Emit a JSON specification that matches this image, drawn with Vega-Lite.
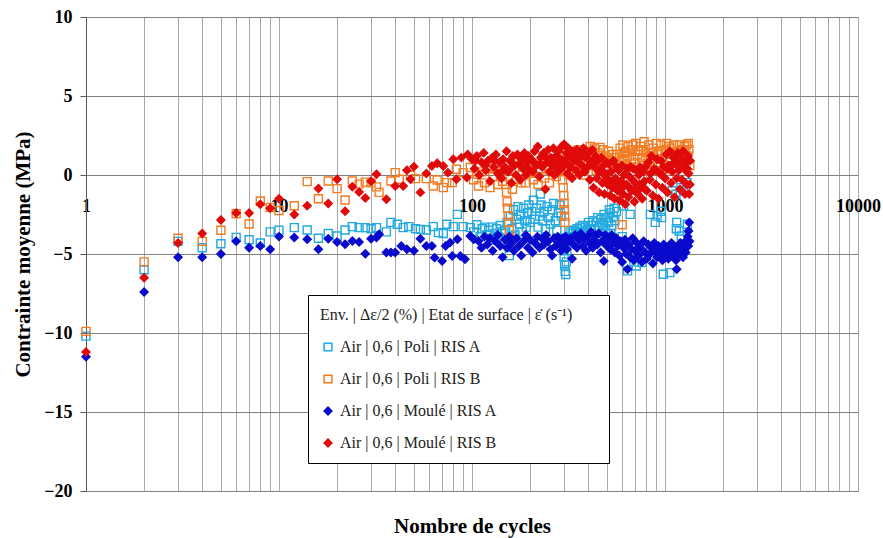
{
  "$schema": "https://vega.github.io/schema/vega-lite/v6.json",
  "width": 772,
  "height": 474,
  "autosize": {"type": "none"},
  "padding": {"left": 86, "top": 17, "right": 25, "bottom": 47},
  "background": "white",
  "config": {"view": {"stroke": "#8C8C8C", "strokeWidth": 1}, "font": "Liberation Serif"},
  "datasets": {
    "mesures": [
      {"serie":"Poli A","N":1,"sigma":-10.2},{"serie":"Poli A","N":2,"sigma":-6.0},{"serie":"Poli A","N":3,"sigma":-4.2},{"serie":"Poli A","N":4,"sigma":-4.6},{"serie":"Poli A","N":5,"sigma":-4.35},{"serie":"Poli A","N":6,"sigma":-3.95},{"serie":"Poli A","N":7,"sigma":-4.1},{"serie":"Poli A","N":8,"sigma":-4.3},{"serie":"Poli A","N":9,"sigma":-3.6},{"serie":"Poli A","N":10,"sigma":-3.5},
      {"serie":"Poli A","N":12,"sigma":-3.33},{"serie":"Poli A","N":14,"sigma":-3.48},{"serie":"Poli A","N":16,"sigma":-4.0},{"serie":"Poli A","N":18,"sigma":-3.7},{"serie":"Poli A","N":20,"sigma":-3.86},{"serie":"Poli A","N":22,"sigma":-3.48},{"serie":"Poli A","N":24,"sigma":-3.27},{"serie":"Poli A","N":26,"sigma":-3.33},{"serie":"Poli A","N":28,"sigma":-3.33},{"serie":"Poli A","N":30,"sigma":-3.4},
      {"serie":"Poli A","N":32,"sigma":-3.33},{"serie":"Poli A","N":36,"sigma":-3.6},{"serie":"Poli A","N":38,"sigma":-3.0},{"serie":"Poli A","N":41,"sigma":-3.12},{"serie":"Poli A","N":44,"sigma":-3.33},{"serie":"Poli A","N":47,"sigma":-3.27},{"serie":"Poli A","N":51,"sigma":-3.4},{"serie":"Poli A","N":54,"sigma":-3.44},{"serie":"Poli A","N":58,"sigma":-3.48},{"serie":"Poli A","N":63,"sigma":-3.27},
      {"serie":"Poli A","N":67,"sigma":-3.65},{"serie":"Poli A","N":71,"sigma":-3.7},{"serie":"Poli A","N":74,"sigma":-3.12},{"serie":"Poli A","N":80,"sigma":-3.27},{"serie":"Poli A","N":84,"sigma":-2.49},{"serie":"Poli A","N":90,"sigma":-3.27},{"serie":"Poli A","N":98,"sigma":-3.33},{"serie":"Poli A","N":102,"sigma":-3.6},{"serie":"Poli A","N":106,"sigma":-3.15},{"serie":"Poli A","N":110,"sigma":-3.9},
      {"serie":"Poli A","N":113,"sigma":-3.4},{"serie":"Poli A","N":116,"sigma":-3.3},{"serie":"Poli A","N":119,"sigma":-3.8},{"serie":"Poli A","N":122,"sigma":-3.5},{"serie":"Poli A","N":125,"sigma":-4.1},{"serie":"Poli A","N":128,"sigma":-3.3},{"serie":"Poli A","N":131,"sigma":-3.7},{"serie":"Poli A","N":134,"sigma":-3.4},{"serie":"Poli A","N":137,"sigma":-3.9},{"serie":"Poli A","N":140,"sigma":-3.2},
      {"serie":"Poli A","N":143,"sigma":-3.6},{"serie":"Poli A","N":146,"sigma":-4.2},{"serie":"Poli A","N":149,"sigma":-3.5},{"serie":"Poli A","N":152,"sigma":-3.0},{"serie":"Poli A","N":154,"sigma":-4.5},{"serie":"Poli A","N":156,"sigma":-5.1},{"serie":"Poli A","N":158,"sigma":-2.6},{"serie":"Poli A","N":161,"sigma":-3.4},{"serie":"Poli A","N":164,"sigma":-2.2},{"serie":"Poli A","N":167,"sigma":-3.8},
      {"serie":"Poli A","N":170,"sigma":-2.8},{"serie":"Poli A","N":173,"sigma":-2.0},{"serie":"Poli A","N":176,"sigma":-3.1},{"serie":"Poli A","N":179,"sigma":-2.5},{"serie":"Poli A","N":182,"sigma":-3.6},{"serie":"Poli A","N":185,"sigma":-2.1},{"serie":"Poli A","N":188,"sigma":-2.9},{"serie":"Poli A","N":191,"sigma":-3.3},{"serie":"Poli A","N":194,"sigma":-2.4},{"serie":"Poli A","N":197,"sigma":-1.9},
      {"serie":"Poli A","N":200,"sigma":-3.0},{"serie":"Poli A","N":204,"sigma":-2.3},{"serie":"Poli A","N":208,"sigma":-1.6},{"serie":"Poli A","N":212,"sigma":-2.8},{"serie":"Poli A","N":216,"sigma":-2.1},{"serie":"Poli A","N":220,"sigma":-3.3},{"serie":"Poli A","N":224,"sigma":-2.6},{"serie":"Poli A","N":226,"sigma":-1.2},{"serie":"Poli A","N":228,"sigma":-1.9},{"serie":"Poli A","N":232,"sigma":-2.9},
      {"serie":"Poli A","N":236,"sigma":-2.3},{"serie":"Poli A","N":240,"sigma":-3.4},{"serie":"Poli A","N":245,"sigma":-2.0},{"serie":"Poli A","N":250,"sigma":-2.7},{"serie":"Poli A","N":255,"sigma":-3.1},{"serie":"Poli A","N":260,"sigma":-2.2},{"serie":"Poli A","N":265,"sigma":-1.8},{"serie":"Poli A","N":270,"sigma":-2.9},{"serie":"Poli A","N":275,"sigma":-3.5},{"serie":"Poli A","N":280,"sigma":-2.4},
      {"serie":"Poli A","N":285,"sigma":-1.9},{"serie":"Poli A","N":290,"sigma":-2.6},{"serie":"Poli A","N":296,"sigma":-4.0},{"serie":"Poli A","N":298,"sigma":-4.6},{"serie":"Poli A","N":300,"sigma":-5.2},{"serie":"Poli A","N":302,"sigma":-5.7},{"serie":"Poli A","N":304,"sigma":-6.1},{"serie":"Poli A","N":306,"sigma":-6.3},{"serie":"Poli A","N":308,"sigma":-5.5},{"serie":"Poli A","N":310,"sigma":-4.8},
      {"serie":"Poli A","N":312,"sigma":-4.3},{"serie":"Poli A","N":318,"sigma":-3.9},{"serie":"Poli A","N":322,"sigma":-3.6},{"serie":"Poli A","N":326,"sigma":-4.0},{"serie":"Poli A","N":330,"sigma":-3.7},{"serie":"Poli A","N":335,"sigma":-3.5},{"serie":"Poli A","N":340,"sigma":-3.9},{"serie":"Poli A","N":345,"sigma":-3.6},{"serie":"Poli A","N":350,"sigma":-3.4},{"serie":"Poli A","N":356,"sigma":-3.8},
      {"serie":"Poli A","N":362,"sigma":-3.3},{"serie":"Poli A","N":368,"sigma":-3.6},{"serie":"Poli A","N":374,"sigma":-3.2},{"serie":"Poli A","N":380,"sigma":-3.7},{"serie":"Poli A","N":387,"sigma":-3.3},{"serie":"Poli A","N":394,"sigma":-3.5},{"serie":"Poli A","N":401,"sigma":-3.0},{"serie":"Poli A","N":408,"sigma":-3.4},{"serie":"Poli A","N":416,"sigma":-3.2},{"serie":"Poli A","N":424,"sigma":-2.9},
      {"serie":"Poli A","N":432,"sigma":-3.5},{"serie":"Poli A","N":440,"sigma":-3.0},{"serie":"Poli A","N":448,"sigma":-2.7},{"serie":"Poli A","N":456,"sigma":-3.3},{"serie":"Poli A","N":465,"sigma":-2.8},{"serie":"Poli A","N":470,"sigma":-3.7},{"serie":"Poli A","N":474,"sigma":-3.1},{"serie":"Poli A","N":483,"sigma":-2.5},{"serie":"Poli A","N":492,"sigma":-3.4},{"serie":"Poli A","N":501,"sigma":-2.7},
      {"serie":"Poli A","N":510,"sigma":-3.0},{"serie":"Poli A","N":515,"sigma":-2.2},{"serie":"Poli A","N":520,"sigma":-2.4},{"serie":"Poli A","N":525,"sigma":-3.7},{"serie":"Poli A","N":530,"sigma":-3.2},{"serie":"Poli A","N":540,"sigma":-2.6},{"serie":"Poli A","N":545,"sigma":-2.1},{"serie":"Poli A","N":550,"sigma":-2.9},{"serie":"Poli A","N":560,"sigma":-2.3},{"serie":"Poli A","N":600,"sigma":-3.9},
      {"serie":"Poli A","N":610,"sigma":-1.96},{"serie":"Poli A","N":640,"sigma":-6.07},{"serie":"Poli A","N":660,"sigma":-2.49},{"serie":"Poli A","N":690,"sigma":-5.5},{"serie":"Poli A","N":710,"sigma":-5.76},{"serie":"Poli A","N":760,"sigma":-5.54},{"serie":"Poli A","N":840,"sigma":-2.49},{"serie":"Poli A","N":890,"sigma":-3.0},{"serie":"Poli A","N":910,"sigma":-2.6},{"serie":"Poli A","N":955,"sigma":-2.3},
      {"serie":"Poli A","N":960,"sigma":-2.7},{"serie":"Poli A","N":980,"sigma":-6.28},{"serie":"Poli A","N":1060,"sigma":-6.18},{"serie":"Poli A","N":1090,"sigma":-1.0},{"serie":"Poli A","N":1140,"sigma":-1.22},{"serie":"Poli A","N":1145,"sigma":-3.4},{"serie":"Poli A","N":1150,"sigma":-3.0},{"serie":"Poli A","N":1185,"sigma":-3.54},{"serie":"Poli A","N":1210,"sigma":-0.8},{"serie":"Poli A","N":1215,"sigma":-3.86},
      {"serie":"Poli A","N":1250,"sigma":-1.0},{"serie":"Poli A","N":1300,"sigma":-0.48},{"serie":"Poli A","N":1305,"sigma":-3.12},

      {"serie":"Poli B","N":1,"sigma":-9.9},{"serie":"Poli B","N":2,"sigma":-5.5},{"serie":"Poli B","N":3,"sigma":-4.0},{"serie":"Poli B","N":4,"sigma":-4.2},{"serie":"Poli B","N":5,"sigma":-3.5},{"serie":"Poli B","N":6,"sigma":-2.45},{"serie":"Poli B","N":7,"sigma":-3.1},{"serie":"Poli B","N":8,"sigma":-1.65},{"serie":"Poli B","N":9,"sigma":-2.05},{"serie":"Poli B","N":10,"sigma":-2.25},
      {"serie":"Poli B","N":12,"sigma":-1.95},{"serie":"Poli B","N":14,"sigma":-0.42},{"serie":"Poli B","N":16,"sigma":-1.5},{"serie":"Poli B","N":18,"sigma":-0.38},{"serie":"Poli B","N":20,"sigma":-0.86},{"serie":"Poli B","N":22,"sigma":-1.58},{"serie":"Poli B","N":24,"sigma":-0.38},{"serie":"Poli B","N":26,"sigma":-0.58},{"serie":"Poli B","N":28,"sigma":-0.45},{"serie":"Poli B","N":30,"sigma":-0.5},
      {"serie":"Poli B","N":32,"sigma":-0.75},{"serie":"Poli B","N":33,"sigma":-1.1},{"serie":"Poli B","N":38,"sigma":-0.38},{"serie":"Poli B","N":40,"sigma":0.15},{"serie":"Poli B","N":42,"sigma":-0.27},{"serie":"Poli B","N":48,"sigma":-0.02},{"serie":"Poli B","N":51,"sigma":-0.23},{"serie":"Poli B","N":58,"sigma":-0.23},{"serie":"Poli B","N":63,"sigma":-0.7},{"serie":"Poli B","N":66,"sigma":-0.32},
      {"serie":"Poli B","N":71,"sigma":-0.8},{"serie":"Poli B","N":74,"sigma":-0.48},{"serie":"Poli B","N":79,"sigma":-0.48},{"serie":"Poli B","N":83,"sigma":0.36},{"serie":"Poli B","N":90,"sigma":0.15},{"serie":"Poli B","N":98,"sigma":0.47},{"serie":"Poli B","N":102,"sigma":-0.3},{"serie":"Poli B","N":106,"sigma":0.05},{"serie":"Poli B","N":108,"sigma":-0.7},{"serie":"Poli B","N":112,"sigma":0.2},
      {"serie":"Poli B","N":116,"sigma":-0.5},{"serie":"Poli B","N":120,"sigma":0.4},{"serie":"Poli B","N":124,"sigma":-0.8},{"serie":"Poli B","N":128,"sigma":-0.1},{"serie":"Poli B","N":132,"sigma":0.5},{"serie":"Poli B","N":136,"sigma":-0.6},{"serie":"Poli B","N":140,"sigma":0.1},{"serie":"Poli B","N":144,"sigma":-0.4},{"serie":"Poli B","N":148,"sigma":0.3},{"serie":"Poli B","N":150,"sigma":-0.6},
      {"serie":"Poli B","N":151,"sigma":-1.1},{"serie":"Poli B","N":152,"sigma":-1.7},{"serie":"Poli B","N":153,"sigma":-2.1},{"serie":"Poli B","N":154,"sigma":-2.6},{"serie":"Poli B","N":155,"sigma":-3.0},{"serie":"Poli B","N":156,"sigma":-3.5},{"serie":"Poli B","N":157,"sigma":-4.0},{"serie":"Poli B","N":158,"sigma":-4.5},{"serie":"Poli B","N":162,"sigma":-0.9},{"serie":"Poli B","N":166,"sigma":0.3},
      {"serie":"Poli B","N":170,"sigma":-0.3},{"serie":"Poli B","N":175,"sigma":0.8},{"serie":"Poli B","N":180,"sigma":-0.5},{"serie":"Poli B","N":185,"sigma":0.5},{"serie":"Poli B","N":190,"sigma":-0.5},{"serie":"Poli B","N":196,"sigma":1.0},{"serie":"Poli B","N":202,"sigma":0.1},{"serie":"Poli B","N":208,"sigma":-0.3},{"serie":"Poli B","N":214,"sigma":0.7},{"serie":"Poli B","N":220,"sigma":-0.6},
      {"serie":"Poli B","N":226,"sigma":0.4},{"serie":"Poli B","N":232,"sigma":1.1},{"serie":"Poli B","N":238,"sigma":-0.2},{"serie":"Poli B","N":245,"sigma":0.6},{"serie":"Poli B","N":252,"sigma":-0.5},{"serie":"Poli B","N":259,"sigma":0.9},{"serie":"Poli B","N":266,"sigma":0.2},{"serie":"Poli B","N":273,"sigma":-0.1},{"serie":"Poli B","N":280,"sigma":1.0},{"serie":"Poli B","N":287,"sigma":0.3},
      {"serie":"Poli B","N":294,"sigma":-0.3},{"serie":"Poli B","N":297,"sigma":-0.8},{"serie":"Poli B","N":299,"sigma":-1.3},{"serie":"Poli B","N":300,"sigma":-1.8},{"serie":"Poli B","N":301,"sigma":-2.2},{"serie":"Poli B","N":302,"sigma":-2.6},{"serie":"Poli B","N":303,"sigma":-3.0},{"serie":"Poli B","N":306,"sigma":0.3},{"serie":"Poli B","N":312,"sigma":1.0},{"serie":"Poli B","N":318,"sigma":0.0},
      {"serie":"Poli B","N":325,"sigma":1.4},{"serie":"Poli B","N":332,"sigma":0.5},{"serie":"Poli B","N":340,"sigma":1.1},{"serie":"Poli B","N":348,"sigma":0.2},{"serie":"Poli B","N":356,"sigma":1.6},{"serie":"Poli B","N":364,"sigma":0.7},{"serie":"Poli B","N":372,"sigma":1.2},{"serie":"Poli B","N":380,"sigma":0.0},{"serie":"Poli B","N":390,"sigma":1.5},{"serie":"Poli B","N":400,"sigma":0.6},
      {"serie":"Poli B","N":410,"sigma":1.8},{"serie":"Poli B","N":420,"sigma":0.9},{"serie":"Poli B","N":430,"sigma":1.7},{"serie":"Poli B","N":440,"sigma":0.3},{"serie":"Poli B","N":450,"sigma":1.4},{"serie":"Poli B","N":460,"sigma":1.75},{"serie":"Poli B","N":470,"sigma":0.8},{"serie":"Poli B","N":480,"sigma":1.6},{"serie":"Poli B","N":490,"sigma":1.2},{"serie":"Poli B","N":500,"sigma":0.4},
      {"serie":"Poli B","N":510,"sigma":1.5},{"serie":"Poli B","N":520,"sigma":0.9},{"serie":"Poli B","N":530,"sigma":1.3},{"serie":"Poli B","N":540,"sigma":0.6},{"serie":"Poli B","N":550,"sigma":1.1},{"serie":"Poli B","N":565,"sigma":1.3},{"serie":"Poli B","N":575,"sigma":0.6},{"serie":"Poli B","N":585,"sigma":1.7},{"serie":"Poli B","N":595,"sigma":-1.5},{"serie":"Poli B","N":596,"sigma":1.0},
      {"serie":"Poli B","N":600,"sigma":-3.15},{"serie":"Poli B","N":605,"sigma":1.9},{"serie":"Poli B","N":615,"sigma":0.9},{"serie":"Poli B","N":625,"sigma":1.5},{"serie":"Poli B","N":635,"sigma":0.6},{"serie":"Poli B","N":645,"sigma":1.8},{"serie":"Poli B","N":655,"sigma":1.2},{"serie":"Poli B","N":665,"sigma":0.5},{"serie":"Poli B","N":675,"sigma":1.6},{"serie":"Poli B","N":690,"sigma":1.0},
      {"serie":"Poli B","N":705,"sigma":2.0},{"serie":"Poli B","N":720,"sigma":1.3},{"serie":"Poli B","N":735,"sigma":0.7},{"serie":"Poli B","N":750,"sigma":1.8},{"serie":"Poli B","N":765,"sigma":1.1},{"serie":"Poli B","N":780,"sigma":2.1},{"serie":"Poli B","N":795,"sigma":1.4},{"serie":"Poli B","N":810,"sigma":0.5},{"serie":"Poli B","N":825,"sigma":1.9},{"serie":"Poli B","N":840,"sigma":1.2},
      {"serie":"Poli B","N":855,"sigma":0.3},{"serie":"Poli B","N":870,"sigma":1.7},{"serie":"Poli B","N":885,"sigma":1.0},{"serie":"Poli B","N":900,"sigma":2.0},{"serie":"Poli B","N":915,"sigma":0.8},{"serie":"Poli B","N":930,"sigma":1.5},{"serie":"Poli B","N":950,"sigma":1.9},{"serie":"Poli B","N":970,"sigma":1.0},{"serie":"Poli B","N":990,"sigma":0.4},{"serie":"Poli B","N":1010,"sigma":1.6},
      {"serie":"Poli B","N":1030,"sigma":1.1},{"serie":"Poli B","N":1050,"sigma":1.8},{"serie":"Poli B","N":1070,"sigma":0.8},{"serie":"Poli B","N":1090,"sigma":1.4},{"serie":"Poli B","N":1110,"sigma":1.9},{"serie":"Poli B","N":1130,"sigma":1.0},{"serie":"Poli B","N":1150,"sigma":0.5},{"serie":"Poli B","N":1170,"sigma":1.5},{"serie":"Poli B","N":1190,"sigma":1.9},{"serie":"Poli B","N":1210,"sigma":1.1},
      {"serie":"Poli B","N":1230,"sigma":1.6},{"serie":"Poli B","N":1250,"sigma":0.7},{"serie":"Poli B","N":1270,"sigma":1.3},{"serie":"Poli B","N":1290,"sigma":1.9},{"serie":"Poli B","N":1310,"sigma":1.2},{"serie":"Poli B","N":1330,"sigma":1.6},{"serie":"Poli B","N":1345,"sigma":0.6},
      {"serie":"Poli B","N":612,"sigma":1.4},{"serie":"Poli B","N":640,"sigma":1.2},{"serie":"Poli B","N":682,"sigma":1.9},{"serie":"Poli B","N":728,"sigma":1.6},{"serie":"Poli B","N":772,"sigma":1.5},{"serie":"Poli B","N":818,"sigma":1.2},{"serie":"Poli B","N":862,"sigma":1.4},{"serie":"Poli B","N":908,"sigma":1.3},{"serie":"Poli B","N":960,"sigma":1.5},{"serie":"Poli B","N":1020,"sigma":2.0},
      {"serie":"Poli B","N":1080,"sigma":1.7},{"serie":"Poli B","N":1140,"sigma":1.3},{"serie":"Poli B","N":1200,"sigma":1.5},{"serie":"Poli B","N":1260,"sigma":1.8},{"serie":"Poli B","N":1320,"sigma":2.0},

      {"serie":"Moulé A","N":1,"sigma":-11.5},{"serie":"Moulé A","N":2,"sigma":-7.4},{"serie":"Moulé A","N":3,"sigma":-5.2},{"serie":"Moulé A","N":4,"sigma":-5.2},{"serie":"Moulé A","N":5,"sigma":-5.0},{"serie":"Moulé A","N":6,"sigma":-4.2},{"serie":"Moulé A","N":7,"sigma":-4.6},{"serie":"Moulé A","N":8,"sigma":-4.5},{"serie":"Moulé A","N":9,"sigma":-4.7},{"serie":"Moulé A","N":10,"sigma":-3.9},
      {"serie":"Moulé A","N":12,"sigma":-3.96},{"serie":"Moulé A","N":14,"sigma":-4.07},{"serie":"Moulé A","N":16,"sigma":-4.7},{"serie":"Moulé A","N":18,"sigma":-4.03},{"serie":"Moulé A","N":20,"sigma":-4.24},{"serie":"Moulé A","N":22,"sigma":-4.39},{"serie":"Moulé A","N":24,"sigma":-4.17},{"serie":"Moulé A","N":26,"sigma":-4.24},{"serie":"Moulé A","N":28,"sigma":-4.98},{"serie":"Moulé A","N":30,"sigma":-4.03},
      {"serie":"Moulé A","N":32,"sigma":-3.96},{"serie":"Moulé A","N":33,"sigma":-3.75},{"serie":"Moulé A","N":36,"sigma":-4.9},{"serie":"Moulé A","N":38,"sigma":-4.9},{"serie":"Moulé A","N":40,"sigma":-4.9},{"serie":"Moulé A","N":43,"sigma":-4.49},{"serie":"Moulé A","N":46,"sigma":-4.7},{"serie":"Moulé A","N":50,"sigma":-4.8},{"serie":"Moulé A","N":54,"sigma":-4.03},{"serie":"Moulé A","N":58,"sigma":-4.49},
      {"serie":"Moulé A","N":62,"sigma":-4.49},{"serie":"Moulé A","N":64,"sigma":-5.23},{"serie":"Moulé A","N":70,"sigma":-5.44},{"serie":"Moulé A","N":73,"sigma":-4.49},{"serie":"Moulé A","N":77,"sigma":-4.28},{"serie":"Moulé A","N":79,"sigma":-5.12},{"serie":"Moulé A","N":84,"sigma":-4.07},{"serie":"Moulé A","N":87,"sigma":-5.12},{"serie":"Moulé A","N":92,"sigma":-5.33},{"serie":"Moulé A","N":98,"sigma":-3.86},
      {"serie":"Moulé A","N":102,"sigma":-4.07},{"serie":"Moulé A","N":108,"sigma":-4.18},{"serie":"Moulé A","N":112,"sigma":-4.6},{"serie":"Moulé A","N":116,"sigma":-3.9},{"serie":"Moulé A","N":120,"sigma":-4.4},{"serie":"Moulé A","N":124,"sigma":-4.0},{"serie":"Moulé A","N":128,"sigma":-4.8},{"serie":"Moulé A","N":132,"sigma":-4.2},{"serie":"Moulé A","N":136,"sigma":-3.8},{"serie":"Moulé A","N":140,"sigma":-4.5},
      {"serie":"Moulé A","N":144,"sigma":-5.2},{"serie":"Moulé A","N":148,"sigma":-4.1},{"serie":"Moulé A","N":152,"sigma":-4.6},{"serie":"Moulé A","N":156,"sigma":-3.9},{"serie":"Moulé A","N":160,"sigma":-4.3},{"serie":"Moulé A","N":165,"sigma":-4.8},{"serie":"Moulé A","N":170,"sigma":-4.0},{"serie":"Moulé A","N":175,"sigma":-4.5},{"serie":"Moulé A","N":180,"sigma":-5.1},{"serie":"Moulé A","N":185,"sigma":-4.2},
      {"serie":"Moulé A","N":190,"sigma":-3.8},{"serie":"Moulé A","N":195,"sigma":-4.6},{"serie":"Moulé A","N":200,"sigma":-4.1},{"serie":"Moulé A","N":206,"sigma":-4.9},{"serie":"Moulé A","N":212,"sigma":-4.3},{"serie":"Moulé A","N":218,"sigma":-3.9},{"serie":"Moulé A","N":224,"sigma":-4.6},{"serie":"Moulé A","N":230,"sigma":-4.0},{"serie":"Moulé A","N":236,"sigma":-4.4},{"serie":"Moulé A","N":242,"sigma":-3.8},
      {"serie":"Moulé A","N":248,"sigma":-4.2},{"serie":"Moulé A","N":255,"sigma":-4.7},{"serie":"Moulé A","N":260,"sigma":-5.1},{"serie":"Moulé A","N":266,"sigma":-4.0},{"serie":"Moulé A","N":272,"sigma":-4.5},{"serie":"Moulé A","N":278,"sigma":-3.9},{"serie":"Moulé A","N":284,"sigma":-4.3},{"serie":"Moulé A","N":290,"sigma":-4.8},{"serie":"Moulé A","N":296,"sigma":-4.0},{"serie":"Moulé A","N":300,"sigma":-4.5},
      {"serie":"Moulé A","N":305,"sigma":-3.9},{"serie":"Moulé A","N":310,"sigma":-4.7},{"serie":"Moulé A","N":316,"sigma":-4.2},{"serie":"Moulé A","N":322,"sigma":-4.0},{"serie":"Moulé A","N":330,"sigma":-5.3},{"serie":"Moulé A","N":336,"sigma":-4.4},{"serie":"Moulé A","N":342,"sigma":-3.8},{"serie":"Moulé A","N":350,"sigma":-4.6},{"serie":"Moulé A","N":358,"sigma":-4.1},{"serie":"Moulé A","N":366,"sigma":-3.7},
      {"serie":"Moulé A","N":374,"sigma":-4.5},{"serie":"Moulé A","N":382,"sigma":-4.0},{"serie":"Moulé A","N":390,"sigma":-4.8},{"serie":"Moulé A","N":398,"sigma":-3.9},{"serie":"Moulé A","N":406,"sigma":-4.3},{"serie":"Moulé A","N":414,"sigma":-3.6},{"serie":"Moulé A","N":422,"sigma":-4.6},{"serie":"Moulé A","N":430,"sigma":-4.1},{"serie":"Moulé A","N":438,"sigma":-3.8},{"serie":"Moulé A","N":446,"sigma":-4.4},
      {"serie":"Moulé A","N":455,"sigma":-3.7},{"serie":"Moulé A","N":464,"sigma":-4.9},{"serie":"Moulé A","N":473,"sigma":-4.2},{"serie":"Moulé A","N":482,"sigma":-5.44},{"serie":"Moulé A","N":490,"sigma":-3.8},{"serie":"Moulé A","N":500,"sigma":-4.5},{"serie":"Moulé A","N":510,"sigma":-4.0},{"serie":"Moulé A","N":520,"sigma":-4.7},{"serie":"Moulé A","N":530,"sigma":-3.8},{"serie":"Moulé A","N":540,"sigma":-4.3},
      {"serie":"Moulé A","N":550,"sigma":-4.9},{"serie":"Moulé A","N":560,"sigma":-4.0},{"serie":"Moulé A","N":570,"sigma":-4.5},{"serie":"Moulé A","N":580,"sigma":-5.1},{"serie":"Moulé A","N":590,"sigma":-4.2},{"serie":"Moulé A","N":600,"sigma":-5.5},{"serie":"Moulé A","N":610,"sigma":-4.6},{"serie":"Moulé A","N":620,"sigma":-4.1},{"serie":"Moulé A","N":630,"sigma":-5.0},{"serie":"Moulé A","N":640,"sigma":-5.97},
      {"serie":"Moulé A","N":650,"sigma":-4.4},{"serie":"Moulé A","N":660,"sigma":-5.2},{"serie":"Moulé A","N":670,"sigma":-4.7},{"serie":"Moulé A","N":680,"sigma":-4.0},{"serie":"Moulé A","N":690,"sigma":-5.4},{"serie":"Moulé A","N":700,"sigma":-4.8},{"serie":"Moulé A","N":715,"sigma":-4.3},{"serie":"Moulé A","N":730,"sigma":-5.1},{"serie":"Moulé A","N":745,"sigma":-4.6},{"serie":"Moulé A","N":760,"sigma":-5.5},
      {"serie":"Moulé A","N":775,"sigma":-4.2},{"serie":"Moulé A","N":790,"sigma":-4.9},{"serie":"Moulé A","N":805,"sigma":-5.3},{"serie":"Moulé A","N":820,"sigma":-4.4},{"serie":"Moulé A","N":835,"sigma":-5.0},{"serie":"Moulé A","N":850,"sigma":-4.6},{"serie":"Moulé A","N":865,"sigma":-5.6},{"serie":"Moulé A","N":880,"sigma":-4.3},{"serie":"Moulé A","N":895,"sigma":-4.9},{"serie":"Moulé A","N":910,"sigma":-5.2},
      {"serie":"Moulé A","N":925,"sigma":-4.5},{"serie":"Moulé A","N":940,"sigma":-5.0},{"serie":"Moulé A","N":955,"sigma":-4.7},{"serie":"Moulé A","N":970,"sigma":-5.4},{"serie":"Moulé A","N":985,"sigma":-4.4},{"serie":"Moulé A","N":1000,"sigma":-5.0},{"serie":"Moulé A","N":1020,"sigma":-4.6},{"serie":"Moulé A","N":1040,"sigma":-5.3},{"serie":"Moulé A","N":1060,"sigma":-4.8},{"serie":"Moulé A","N":1080,"sigma":-4.3},
      {"serie":"Moulé A","N":1100,"sigma":-5.1},{"serie":"Moulé A","N":1120,"sigma":-4.7},{"serie":"Moulé A","N":1140,"sigma":-5.4},{"serie":"Moulé A","N":1150,"sigma":-5.97},{"serie":"Moulé A","N":1165,"sigma":-4.5},{"serie":"Moulé A","N":1180,"sigma":-5.0},{"serie":"Moulé A","N":1200,"sigma":-4.3},{"serie":"Moulé A","N":1220,"sigma":-4.8},{"serie":"Moulé A","N":1240,"sigma":-5.2},{"serie":"Moulé A","N":1260,"sigma":-4.4},
      {"serie":"Moulé A","N":1280,"sigma":-4.9},{"serie":"Moulé A","N":1300,"sigma":-4.1},{"serie":"Moulé A","N":1310,"sigma":-3.9},{"serie":"Moulé A","N":1320,"sigma":-4.5},{"serie":"Moulé A","N":1325,"sigma":-3.54},{"serie":"Moulé A","N":1335,"sigma":-3.0},{"serie":"Moulé A","N":1340,"sigma":-4.2},

      {"serie":"Moulé B","N":1,"sigma":-11.2},{"serie":"Moulé B","N":2,"sigma":-6.5},{"serie":"Moulé B","N":3,"sigma":-4.3},{"serie":"Moulé B","N":4,"sigma":-3.7},{"serie":"Moulé B","N":5,"sigma":-2.85},{"serie":"Moulé B","N":6,"sigma":-2.4},{"serie":"Moulé B","N":7,"sigma":-2.4},{"serie":"Moulé B","N":8,"sigma":-1.85},{"serie":"Moulé B","N":9,"sigma":-2.1},{"serie":"Moulé B","N":10,"sigma":-1.5},
      {"serie":"Moulé B","N":12,"sigma":-2.5},{"serie":"Moulé B","N":14,"sigma":-1.95},{"serie":"Moulé B","N":16,"sigma":-0.85},{"serie":"Moulé B","N":18,"sigma":-1.8},{"serie":"Moulé B","N":20,"sigma":-0.27},{"serie":"Moulé B","N":22,"sigma":-2.3},{"serie":"Moulé B","N":24,"sigma":-0.74},{"serie":"Moulé B","N":26,"sigma":-1.07},{"serie":"Moulé B","N":28,"sigma":-1.45},{"serie":"Moulé B","N":30,"sigma":-0.4},
      {"serie":"Moulé B","N":32,"sigma":0.05},{"serie":"Moulé B","N":36,"sigma":-1.54},{"serie":"Moulé B","N":40,"sigma":-0.7},{"serie":"Moulé B","N":44,"sigma":-0.7},{"serie":"Moulé B","N":46,"sigma":0.3},{"serie":"Moulé B","N":48,"sigma":-0.27},{"serie":"Moulé B","N":50,"sigma":0.53},{"serie":"Moulé B","N":54,"sigma":-1.1},{"serie":"Moulé B","N":58,"sigma":0.1},{"serie":"Moulé B","N":62,"sigma":0.57},
      {"serie":"Moulé B","N":66,"sigma":0.74},{"serie":"Moulé B","N":71,"sigma":0.57},{"serie":"Moulé B","N":75,"sigma":0.15},{"serie":"Moulé B","N":80,"sigma":1.0},{"serie":"Moulé B","N":83,"sigma":-0.27},{"serie":"Moulé B","N":88,"sigma":1.1},{"serie":"Moulé B","N":94,"sigma":-0.16},{"serie":"Moulé B","N":95,"sigma":1.3},{"serie":"Moulé B","N":100,"sigma":1.0},{"serie":"Moulé B","N":103,"sigma":0.4},
      {"serie":"Moulé B","N":106,"sigma":1.2},{"serie":"Moulé B","N":109,"sigma":0.0},{"serie":"Moulé B","N":112,"sigma":0.8},{"serie":"Moulé B","N":115,"sigma":1.4},{"serie":"Moulé B","N":118,"sigma":0.3},{"serie":"Moulé B","N":121,"sigma":0.9},{"serie":"Moulé B","N":124,"sigma":-0.4},{"serie":"Moulé B","N":127,"sigma":1.1},{"serie":"Moulé B","N":130,"sigma":0.5},{"serie":"Moulé B","N":133,"sigma":1.3},
      {"serie":"Moulé B","N":136,"sigma":0.1},{"serie":"Moulé B","N":139,"sigma":0.8},{"serie":"Moulé B","N":142,"sigma":-0.2},{"serie":"Moulé B","N":145,"sigma":1.0},{"serie":"Moulé B","N":148,"sigma":0.5},{"serie":"Moulé B","N":151,"sigma":1.5},{"serie":"Moulé B","N":154,"sigma":0.2},{"serie":"Moulé B","N":157,"sigma":0.9},{"serie":"Moulé B","N":160,"sigma":-0.5},{"serie":"Moulé B","N":163,"sigma":1.2},
      {"serie":"Moulé B","N":166,"sigma":0.6},{"serie":"Moulé B","N":169,"sigma":0.0},{"serie":"Moulé B","N":172,"sigma":1.3},{"serie":"Moulé B","N":175,"sigma":0.7},{"serie":"Moulé B","N":178,"sigma":-0.3},{"serie":"Moulé B","N":181,"sigma":1.0},{"serie":"Moulé B","N":184,"sigma":0.4},{"serie":"Moulé B","N":187,"sigma":1.4},{"serie":"Moulé B","N":190,"sigma":0.0},{"serie":"Moulé B","N":193,"sigma":0.8},
      {"serie":"Moulé B","N":196,"sigma":1.2},{"serie":"Moulé B","N":199,"sigma":0.3},{"serie":"Moulé B","N":203,"sigma":1.0},{"serie":"Moulé B","N":207,"sigma":0.2},{"serie":"Moulé B","N":211,"sigma":1.5},{"serie":"Moulé B","N":215,"sigma":0.6},{"serie":"Moulé B","N":219,"sigma":1.8},{"serie":"Moulé B","N":223,"sigma":-0.1},{"serie":"Moulé B","N":227,"sigma":1.1},{"serie":"Moulé B","N":231,"sigma":0.5},
      {"serie":"Moulé B","N":235,"sigma":1.4},{"serie":"Moulé B","N":240,"sigma":-0.9},{"serie":"Moulé B","N":244,"sigma":0.8},{"serie":"Moulé B","N":248,"sigma":1.6},{"serie":"Moulé B","N":252,"sigma":0.2},{"serie":"Moulé B","N":256,"sigma":1.1},{"serie":"Moulé B","N":260,"sigma":0.6},{"serie":"Moulé B","N":264,"sigma":1.7},{"serie":"Moulé B","N":268,"sigma":0.0},{"serie":"Moulé B","N":272,"sigma":1.2},
      {"serie":"Moulé B","N":276,"sigma":0.7},{"serie":"Moulé B","N":280,"sigma":1.5},{"serie":"Moulé B","N":284,"sigma":0.3},{"serie":"Moulé B","N":288,"sigma":1.0},{"serie":"Moulé B","N":292,"sigma":1.8},{"serie":"Moulé B","N":296,"sigma":0.5},{"serie":"Moulé B","N":300,"sigma":1.95},{"serie":"Moulé B","N":304,"sigma":0.8},{"serie":"Moulé B","N":308,"sigma":1.4},{"serie":"Moulé B","N":312,"sigma":0.1},
      {"serie":"Moulé B","N":316,"sigma":1.7},{"serie":"Moulé B","N":320,"sigma":0.6},{"serie":"Moulé B","N":325,"sigma":1.2},{"serie":"Moulé B","N":330,"sigma":-0.2},{"serie":"Moulé B","N":335,"sigma":1.5},{"serie":"Moulé B","N":340,"sigma":0.9},{"serie":"Moulé B","N":345,"sigma":0.3},{"serie":"Moulé B","N":350,"sigma":1.6},{"serie":"Moulé B","N":355,"sigma":1.0},{"serie":"Moulé B","N":360,"sigma":0.0},
      {"serie":"Moulé B","N":366,"sigma":1.3},{"serie":"Moulé B","N":372,"sigma":0.6},{"serie":"Moulé B","N":378,"sigma":1.7},{"serie":"Moulé B","N":384,"sigma":0.2},{"serie":"Moulé B","N":390,"sigma":1.1},{"serie":"Moulé B","N":396,"sigma":0.5},{"serie":"Moulé B","N":402,"sigma":1.4},{"serie":"Moulé B","N":408,"sigma":-0.3},{"serie":"Moulé B","N":414,"sigma":0.8},{"serie":"Moulé B","N":420,"sigma":1.6},
      {"serie":"Moulé B","N":426,"sigma":-0.8},{"serie":"Moulé B","N":432,"sigma":0.5},{"serie":"Moulé B","N":438,"sigma":1.2},{"serie":"Moulé B","N":444,"sigma":-0.2},{"serie":"Moulé B","N":450,"sigma":0.9},{"serie":"Moulé B","N":456,"sigma":-1.1},{"serie":"Moulé B","N":462,"sigma":0.3},{"serie":"Moulé B","N":468,"sigma":1.1},{"serie":"Moulé B","N":474,"sigma":-0.5},{"serie":"Moulé B","N":480,"sigma":0.6},
      {"serie":"Moulé B","N":486,"sigma":-1.2},{"serie":"Moulé B","N":492,"sigma":0.1},{"serie":"Moulé B","N":498,"sigma":0.8},{"serie":"Moulé B","N":505,"sigma":-0.6},{"serie":"Moulé B","N":512,"sigma":0.7},{"serie":"Moulé B","N":519,"sigma":-1.3},{"serie":"Moulé B","N":526,"sigma":0.2},{"serie":"Moulé B","N":533,"sigma":-0.8},{"serie":"Moulé B","N":540,"sigma":0.9},{"serie":"Moulé B","N":547,"sigma":-1.5},
      {"serie":"Moulé B","N":554,"sigma":-0.2},{"serie":"Moulé B","N":561,"sigma":0.5},{"serie":"Moulé B","N":568,"sigma":-1.0},{"serie":"Moulé B","N":575,"sigma":0.3},{"serie":"Moulé B","N":582,"sigma":-1.6},{"serie":"Moulé B","N":590,"sigma":-0.4},{"serie":"Moulé B","N":598,"sigma":0.6},{"serie":"Moulé B","N":606,"sigma":-1.2},{"serie":"Moulé B","N":614,"sigma":0.0},{"serie":"Moulé B","N":622,"sigma":-1.85},
      {"serie":"Moulé B","N":630,"sigma":-0.6},{"serie":"Moulé B","N":638,"sigma":0.4},{"serie":"Moulé B","N":646,"sigma":-1.4},{"serie":"Moulé B","N":654,"sigma":-0.1},{"serie":"Moulé B","N":662,"sigma":0.5},{"serie":"Moulé B","N":670,"sigma":-1.0},{"serie":"Moulé B","N":678,"sigma":-0.3},{"serie":"Moulé B","N":686,"sigma":0.4},{"serie":"Moulé B","N":694,"sigma":-1.7},{"serie":"Moulé B","N":702,"sigma":-0.5},
      {"serie":"Moulé B","N":712,"sigma":0.3},{"serie":"Moulé B","N":722,"sigma":-1.2},{"serie":"Moulé B","N":732,"sigma":0.0},{"serie":"Moulé B","N":742,"sigma":0.5},{"serie":"Moulé B","N":752,"sigma":-0.8},{"serie":"Moulé B","N":762,"sigma":-1.5},{"serie":"Moulé B","N":772,"sigma":0.2},{"serie":"Moulé B","N":782,"sigma":-0.4},{"serie":"Moulé B","N":792,"sigma":0.5},{"serie":"Moulé B","N":805,"sigma":-1.0},
      {"serie":"Moulé B","N":820,"sigma":0.8},{"serie":"Moulé B","N":835,"sigma":-0.3},{"serie":"Moulé B","N":850,"sigma":1.2},{"serie":"Moulé B","N":865,"sigma":-1.3},{"serie":"Moulé B","N":880,"sigma":0.4},{"serie":"Moulé B","N":895,"sigma":-0.6},{"serie":"Moulé B","N":910,"sigma":1.0},{"serie":"Moulé B","N":925,"sigma":-1.5},{"serie":"Moulé B","N":940,"sigma":0.1},{"serie":"Moulé B","N":955,"sigma":0.9},
      {"serie":"Moulé B","N":970,"sigma":-0.8},{"serie":"Moulé B","N":985,"sigma":0.5},{"serie":"Moulé B","N":1000,"sigma":-0.2},{"serie":"Moulé B","N":1015,"sigma":1.3},{"serie":"Moulé B","N":1030,"sigma":-1.1},{"serie":"Moulé B","N":1045,"sigma":0.6},{"serie":"Moulé B","N":1060,"sigma":1.5},{"serie":"Moulé B","N":1075,"sigma":-0.5},{"serie":"Moulé B","N":1090,"sigma":0.2},{"serie":"Moulé B","N":1105,"sigma":1.1},
      {"serie":"Moulé B","N":1120,"sigma":-1.4},{"serie":"Moulé B","N":1135,"sigma":0.7},{"serie":"Moulé B","N":1150,"sigma":-0.2},{"serie":"Moulé B","N":1165,"sigma":1.4},{"serie":"Moulé B","N":1180,"sigma":0.3},{"serie":"Moulé B","N":1195,"sigma":-0.9},{"serie":"Moulé B","N":1210,"sigma":1.0},{"serie":"Moulé B","N":1225,"sigma":-0.3},{"serie":"Moulé B","N":1240,"sigma":1.5},{"serie":"Moulé B","N":1255,"sigma":0.4},
      {"serie":"Moulé B","N":1270,"sigma":-1.2},{"serie":"Moulé B","N":1285,"sigma":0.8},{"serie":"Moulé B","N":1300,"sigma":-0.6},{"serie":"Moulé B","N":1315,"sigma":1.2},{"serie":"Moulé B","N":1325,"sigma":0.1},{"serie":"Moulé B","N":1335,"sigma":-1.2},{"serie":"Moulé B","N":1345,"sigma":-0.6},{"serie":"Moulé B","N":1350,"sigma":0.9},
      {"serie":"Moulé B","N":104,"sigma":0.9},{"serie":"Moulé B","N":117,"sigma":0.6},{"serie":"Moulé B","N":131,"sigma":0.9},{"serie":"Moulé B","N":146,"sigma":0.3},{"serie":"Moulé B","N":162,"sigma":0.5},{"serie":"Moulé B","N":177,"sigma":1.1},{"serie":"Moulé B","N":192,"sigma":0.5},{"serie":"Moulé B","N":209,"sigma":0.8},{"serie":"Moulé B","N":225,"sigma":0.7},{"serie":"Moulé B","N":242,"sigma":1.1},
      {"serie":"Moulé B","N":258,"sigma":0.9},{"serie":"Moulé B","N":274,"sigma":0.4},{"serie":"Moulé B","N":290,"sigma":0.9},{"serie":"Moulé B","N":306,"sigma":1.0},{"serie":"Moulé B","N":323,"sigma":0.5},{"serie":"Moulé B","N":342,"sigma":1.2},{"serie":"Moulé B","N":363,"sigma":0.7},{"serie":"Moulé B","N":381,"sigma":1.2},{"serie":"Moulé B","N":405,"sigma":0.6},{"serie":"Moulé B","N":429,"sigma":1.0},
      {"serie":"Moulé B","N":453,"sigma":0.2},{"serie":"Moulé B","N":477,"sigma":0.1},{"serie":"Moulé B","N":501,"sigma":-0.2},{"serie":"Moulé B","N":530,"sigma":-0.4},{"serie":"Moulé B","N":565,"sigma":-0.6},{"serie":"Moulé B","N":602,"sigma":-0.8},{"serie":"Moulé B","N":642,"sigma":-0.7},{"serie":"Moulé B","N":690,"sigma":-0.9},{"serie":"Moulé B","N":737,"sigma":-0.6},{"serie":"Moulé B","N":787,"sigma":-0.9},
      {"serie":"Moulé B","N":842,"sigma":0.1},{"serie":"Moulé B","N":902,"sigma":0.3},{"serie":"Moulé B","N":962,"sigma":0.0},{"serie":"Moulé B","N":1022,"sigma":0.4},{"serie":"Moulé B","N":1097,"sigma":0.7},{"serie":"Moulé B","N":1172,"sigma":0.8},{"serie":"Moulé B","N":1247,"sigma":0.5},{"serie":"Moulé B","N":1307,"sigma":0.4}
    ]
  },
  "data": {"name": "mesures"},
  "mark": {"type": "point", "strokeWidth": 1.4, "opacity": 1, "size": 64},
  "encoding": {
    "x": {
      "field": "N", "type": "quantitative",
      "scale": {"type": "log", "domain": [1, 10000], "nice": false},
      "axis": {
        "values": [1,2,3,4,5,6,7,8,9,10,20,30,40,50,60,70,80,90,100,200,300,400,500,600,700,800,900,1000,2000,3000,4000,5000,6000,7000,8000,9000,10000],
        "format": "d",
        "labelExpr": "indexof([1,10,100,1000,10000], datum.value) >= 0 ? datum.label : ''",
        "grid": true, "gridColor": "#A8A8A8", "gridWidth": 1,
        "domain": false, "ticks": false, "tickSize": 0,
        "labelPadding": -294, "labelFlush": false, "labelOverlap": false,
        "labelFont": "Liberation Serif", "labelFontWeight": "bold", "labelFontSize": 18, "labelColor": "black",
        "title": "Nombre de cycles", "titleFont": "Liberation Serif", "titleFontWeight": "bold", "titleFontSize": 21,
        "titleColor": "black", "titleY": 41, "titleBaseline": "alphabetic"
      }
    },
    "y": {
      "field": "sigma", "type": "quantitative",
      "scale": {"domain": [-20, 10], "nice": false, "zero": false},
      "axis": {
        "values": [-20,-15,-10,-5,0,5,10],
        "grid": true, "gridColor": "#808080", "gridWidth": 1,
        "domainColor": "#595959", "tickColor": "#595959", "tickSize": 6, "labelPadding": 8,
        "labelFont": "Liberation Serif", "labelFontWeight": "bold", "labelFontSize": 18, "labelColor": "black",
        "title": "Contrainte moyenne (MPa)", "titleFont": "Liberation Serif", "titleFontWeight": "bold", "titleFontSize": 21,
        "titleColor": "black", "titleX": -63, "titleBaseline": "middle"
      }
    },
    "shape": {
      "field": "serie", "type": "nominal",
      "scale": {"domain": ["Poli A","Poli B","Moulé A","Moulé B"], "range": ["square","square","diamond","diamond"]},
      "legend": {
        "orient": "none", "legendX": 222, "legendY": 278,
        "title": "Env.  |  Δε/2 (%)  |  Etat de surface  |  ε̇ (s⁻¹)",
        "labelExpr": "{'Poli A': 'Air  |  0,6  |  Poli  |  RIS A', 'Poli B': 'Air  |  0,6  |  Poli  |  RIS B', 'Moulé A': 'Air  |  0,6  |  Moulé  |  RIS A', 'Moulé B': 'Air  |  0,6  |  Moulé  |  RIS B'}[datum.label]",
        "labelLimit": 400, "titleLimit": 400,
        "fillColor": "white", "strokeColor": "black", "padding": 12,
        "rowPadding": 16, "titlePadding": 16,
        "symbolSize": 60, "symbolStrokeWidth": 1.5,
        "labelFont": "Liberation Serif", "labelFontSize": 16, "labelColor": "#222222",
        "titleFont": "Liberation Serif", "titleFontSize": 16, "titleFontWeight": "normal", "titleColor": "#222222"
      }
    },
    "stroke": {
      "field": "serie", "type": "nominal",
      "scale": {"domain": ["Poli A","Poli B","Moulé A","Moulé B"], "range": ["#21A9E1","#F47B20","#0A0ACC","#E00A0A"]}
    },
    "fill": {
      "field": "serie", "type": "nominal",
      "scale": {"domain": ["Poli A","Poli B","Moulé A","Moulé B"], "range": ["transparent","transparent","#0A0ACC","#E00A0A"]}
    }
  }
}
